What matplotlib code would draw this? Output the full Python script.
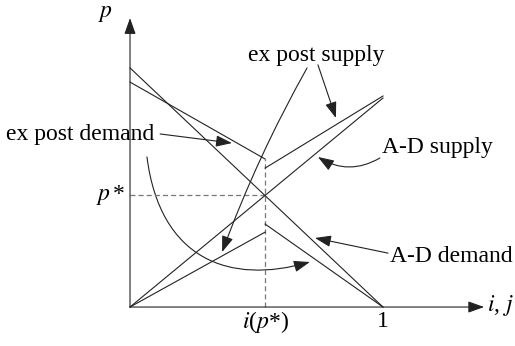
import matplotlib
matplotlib.use("Agg")
import matplotlib.pyplot as plt
from matplotlib.patches import FancyArrowPatch
from matplotlib.path import Path

plt.rcParams['font.family'] = ['Liberation Serif', 'DejaVu Serif']
plt.rcParams['mathtext.fontset'] = 'stix'

# equilibrium
i_star = 0.534
p_star = 0.443

# A-D schedules
ad_demand_i = [0.0, 1.0]
ad_demand_p = [0.945, 0.0]
ad_supply_i = [0.0, 1.0]
ad_supply_p = [0.0, 0.826]

# ex post schedules (two pieces each, broken at i(p*))
ep_demand_hi_i = [0.0, i_star]
ep_demand_hi_p = [0.889, 0.585]
ep_demand_lo_i = [i_star, 1.0]
ep_demand_lo_p = [0.328, 0.0]
ep_supply_lo_i = [0.0, i_star]
ep_supply_lo_p = [0.0, 0.296]
ep_supply_hi_i = [i_star, 1.0]
ep_supply_hi_p = [0.549, 0.834]

fig = plt.figure(figsize=(5.15, 3.46), dpi=100)
ax = fig.add_axes([0, 0, 1, 1])
ax.set_xlim(-0.514, 1.522)
ax.set_ylim(-0.154, 1.2134)
ax.axis('off')

lc = '#222222'
lw = 0.8
head = '-|>,head_length=0.7,head_width=0.25'

# axes with arrows
ax.annotate('', xy=(1.40, 0), xytext=(0, 0),
            arrowprops=dict(arrowstyle=head, color=lc, lw=lw, mutation_scale=14,
                            shrinkA=0, shrinkB=0))
ax.annotate('', xy=(0, 1.142), xytext=(0, 0),
            arrowprops=dict(arrowstyle=head, color=lc, lw=lw, mutation_scale=14,
                            shrinkA=0, shrinkB=0))

# dashed guides
ax.plot([0, i_star], [p_star, p_star], ls=(0, (4, 2.5)), color='#777777', lw=0.9)
ax.plot([i_star, i_star], [0, ep_demand_hi_p[1]], ls=(0, (4, 2.5)), color='#777777', lw=0.9)

# schedules
ax.plot(ad_demand_i, ad_demand_p, color=lc, lw=lw)
ax.plot(ad_supply_i, ad_supply_p, color=lc, lw=lw)
ax.plot(ep_demand_hi_i, ep_demand_hi_p, color=lc, lw=lw)
ax.plot(ep_demand_lo_i, ep_demand_lo_p, color=lc, lw=lw)
ax.plot(ep_supply_lo_i, ep_supply_lo_p, color=lc, lw=lw)
ax.plot(ep_supply_hi_i, ep_supply_hi_p, color=lc, lw=lw)

fs = 17
# axis labels
ax.text(-0.099, 1.162, r'$p$', fontsize=fs, ha='center', va='center')
ax.text(-0.02, p_star, r'$p\,$*', fontsize=fs, ha='right', va='center')
ax.text(i_star, -0.058, r'$i$($p$*)', fontsize=fs, ha='center', va='center')
ax.text(1.0, -0.058, '1', fontsize=fs, ha='center', va='center')
ax.text(1.411, 0.008, r'$i$, $j$', fontsize=fs, ha='left', va='center')

# annotation labels
ax.text(-0.198, 0.680, 'ex post demand', fontsize=fs, ha='center', va='center')
ax.text(0.735, 0.996, 'ex post supply', fontsize=fs, ha='center', va='center')
ax.text(0.996, 0.632, 'A-D supply', fontsize=fs, ha='left', va='center')
ax.text(1.028, 0.198, 'A-D demand', fontsize=fs, ha='left', va='center')

ap = dict(arrowstyle=head, color=lc, lw=lw, mutation_scale=14, shrinkA=0, shrinkB=0)

# ex post demand arrows
ax.annotate('', xy=(0.403, 0.648), xytext=(0.119, 0.684), arrowprops=ap)
curve = Path([(0.067, 0.593), (0.119, 0.186), (0.395, 0.087), (0.711, 0.178)],
             [Path.MOVETO, Path.CURVE4, Path.CURVE4, Path.CURVE4])
ax.add_patch(FancyArrowPatch(path=curve, **ap))

# ex post supply arrows
ax.annotate('', xy=(0.364, 0.217), xytext=(0.700, 0.945),
            arrowprops=dict(ap, connectionstyle='arc3,rad=0.04'))
ax.annotate('', xy=(0.814, 0.747), xytext=(0.743, 0.957), arrowprops=ap)

# A-D arrows
ax.annotate('', xy=(0.743, 0.593), xytext=(0.988, 0.589),
            arrowprops=dict(ap, connectionstyle='arc3,rad=-0.3'))
ax.annotate('', xy=(0.731, 0.273), xytext=(1.020, 0.213), arrowprops=ap)

fig.savefig('out.png', dpi=100, facecolor='white')
